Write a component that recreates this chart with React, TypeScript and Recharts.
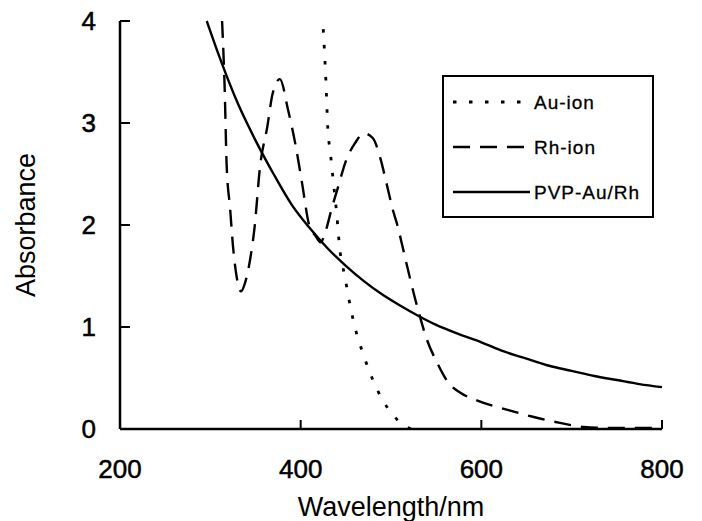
import { LineChart, Line, XAxis, YAxis, Legend } from 'recharts'

// Au-ion (dotted)
const auWl = [425, 428, 430, 433, 436, 440, 443, 449, 455, 460, 469, 480, 491, 502, 512, 522]
const auAbs = [3.92, 3.4, 2.96, 2.7, 2.44, 2.1, 1.79, 1.49, 1.2, 1.0, 0.74, 0.48, 0.28, 0.14, 0.05, 0.0]

// Rh-ion (dashed)
const rhWl = [313, 316, 318, 322, 325, 329, 334, 339, 344, 349, 355, 363, 369, 377, 386, 394, 401, 410, 416, 422, 428, 434, 440, 451, 460, 470, 480, 488, 495, 502, 507, 513, 518, 529, 540, 551, 563, 576, 595, 628, 657, 687, 713, 740, 800]
const rhAbs = [4.0, 3.3, 2.6, 2.15, 1.8, 1.5, 1.35, 1.45, 1.66, 1.98, 2.57, 2.96, 3.29, 3.43, 3.13, 2.8, 2.44, 1.98, 1.9, 1.83, 1.95, 2.15, 2.33, 2.65, 2.8, 2.9, 2.85, 2.66, 2.41, 2.15, 2.0, 1.78, 1.59, 1.2, 0.87, 0.65, 0.46, 0.36, 0.28, 0.19, 0.12, 0.06, 0.02, 0.01, 0.01]

// PVP-Au/Rh (solid)
const pvpWl = [296, 310, 330, 350, 370, 390, 410, 430, 450, 470, 490, 510, 530, 550, 575, 600, 625, 650, 675, 700, 725, 750, 775, 800]
const pvpAbs = [4.0, 3.65, 3.2, 2.83, 2.5, 2.2, 1.97, 1.77, 1.6, 1.45, 1.32, 1.21, 1.11, 1.02, 0.93, 0.85, 0.76, 0.69, 0.62, 0.57, 0.52, 0.48, 0.44, 0.41]

const xTicks = [200, 400, 600, 800]
const yTicks = [0, 1, 2, 3, 4]

const series = [
  { name: 'Au-ion', wl: auWl, abs: auAbs, dash: '3.5 12.5', width: 2.8 },
  { name: 'Rh-ion', wl: rhWl, abs: rhAbs, dash: '17 10', width: 2.4 },
  { name: 'PVP-Au/Rh', wl: pvpWl, abs: pvpAbs, dash: undefined, width: 2.4 },
]

const font = '"Liberation Sans", Arial, sans-serif'

const XTick = (props: any) => {
  const { x, y, payload } = props
  return (
    <g>
      <line x1={x} x2={x} y1={y} y2={y - 9} stroke="#000" strokeWidth={2} />
      <text
        x={x}
        y={y + 49}
        textAnchor="middle"
        fontSize={26}
        fontFamily={font}
        fill="#000"
        stroke="#000"
        strokeWidth={0.5}
      >
        {payload.value}
      </text>
    </g>
  )
}

const YTick = (props: any) => {
  const { x, y, payload } = props
  return (
    <g>
      <line x1={x} x2={x + 10} y1={y} y2={y} stroke="#000" strokeWidth={2} />
      <text
        x={x - 24}
        y={y + 9}
        textAnchor="end"
        fontSize={26}
        fontFamily={font}
        fill="#000"
        stroke="#000"
        strokeWidth={0.5}
      >
        {payload.value}
      </text>
    </g>
  )
}

const LegendBox = () => (
  <svg width={212} height={143} style={{ display: 'block' }}>
    <rect x={1} y={1} width={210} height={141} fill="#fff" stroke="#000" strokeWidth={2} />
    {series.map((s, i) => {
      const cy = 27 + i * 45
      return (
        <g key={s.name}>
          <line x1={11} x2={88} y1={cy} y2={cy} stroke="#000" strokeWidth={s.width} strokeDasharray={s.dash} />
          <text
            x={92}
            y={cy + 7}
            fontSize={19}
            letterSpacing={1}
            fontFamily={font}
            fill="#000"
            stroke="#000"
            strokeWidth={0.3}
          >
            {s.name}
          </text>
        </g>
      )
    })}
  </svg>
)

export default function App() {
  return (
    <div style={{ position: 'absolute', left: 0, top: 0, background: '#fff' }}>
      <LineChart width={702} height={521} margin={{ top: 21, right: 40, left: 0, bottom: 0 }}>
        <XAxis
          type="number"
          dataKey="wl"
          domain={[200, 800]}
          ticks={xTicks}
          height={92}
          tickSize={0}
          tickMargin={0}
          tick={<XTick />}
          axisLine={{ stroke: '#000', strokeWidth: 2.5 }}
          allowDuplicatedCategory={false}
          label={{
            value: 'Wavelength/nm',
            position: 'insideBottom',
            offset: 5,
            fontSize: 27,
            fontFamily: font,
            fill: '#000',
          }}
        />
        <YAxis
          type="number"
          domain={[0, 4]}
          ticks={yTicks}
          width={120}
          tickSize={0}
          tickMargin={0}
          tick={<YTick />}
          axisLine={{ stroke: '#000', strokeWidth: 2.5 }}
          label={{
            value: 'Absorbance',
            angle: -90,
            position: 'insideLeft',
            offset: 25,
            fontSize: 27,
            fontFamily: font,
            fill: '#000',
            style: { textAnchor: 'middle' },
          }}
        />
        {series.map((s) => (
          <Line
            key={s.name}
            name={s.name}
            data={s.wl.map((w, i) => ({ wl: w, abs: s.abs[i] }))}
            dataKey="abs"
            type="monotone"
            stroke="#000"
            strokeWidth={s.width}
            strokeDasharray={s.dash}
            dot={false}
            activeDot={false}
            isAnimationActive={false}
          />
        ))}
        <Legend
          layout="vertical"
          align="center"
          verticalAlign="middle"
          content={<LegendBox />}
          wrapperStyle={{ left: 442, top: 75, width: 212, height: 143 }}
        />
      </LineChart>
    </div>
  )
}
